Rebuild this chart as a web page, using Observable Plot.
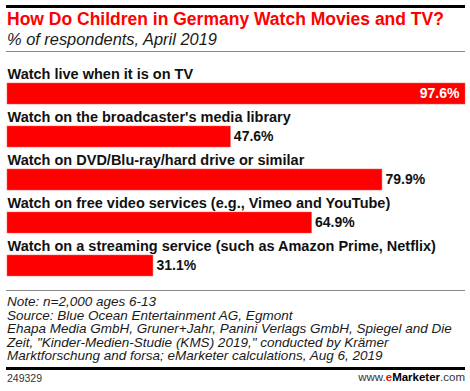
<!DOCTYPE html>
<html>
<head>
<meta charset="utf-8">
<script src="https://cdn.jsdelivr.net/npm/d3@7"></script>
<script src="https://cdn.jsdelivr.net/npm/@observablehq/plot@0.6"></script>
<style>
  html, body { margin: 0; padding: 0; background: #fff; }
  body { width: 470px; height: 391px; position: relative; overflow: hidden; font-family: "Liberation Sans", Arial, sans-serif; color: #000; }
  .abs { position: absolute; white-space: nowrap; }
  .rule { position: absolute; left: 6px; width: 459px; }
  #title { left: 7px; top: 11px; font-size: 17.5px; line-height: 17.5px; font-weight: bold; color: #ff0000; }
  #subtitle { left: 7px; top: 31px; font-size: 16.4px; line-height: 16.4px; font-style: italic; color: #1a1a1a; }
  #note { left: 7px; top: 295px; font-size: 13.5px; line-height: 13.6px; font-style: italic; color: #1a1a1a; }
  #id { left: 7px; top: 373px; font-size: 10.5px; line-height: 10.5px; color: #333; }
  #brand { right: 5px; top: 372px; font-size: 11.5px; line-height: 11.5px; color: #333; }
  #brand b.e { color: #ff0000; }
  #brand b { color: #000; }
  #chart { position: absolute; left: 0; top: 53px; }
</style>
</head>
<body>
<div class="rule" style="top:5px;height:3px;background:#000"></div>
<div id="title" class="abs">How Do Children in Germany Watch Movies and TV?</div>
<div id="subtitle" class="abs">% of respondents, April 2019</div>
<div class="rule" style="top:51px;height:1px;background:#888"></div>
<div id="chart"></div>
<div class="rule" style="top:290px;height:1px;background:#888"></div>
<div id="note" class="abs">Note: n=2,000 ages 6-13<br>Source: Blue Ocean Entertainment AG, Egmont<br>Ehapa Media GmbH, Gruner+Jahr, Panini Verlags GmbH, Spiegel and Die<br>Zeit, "Kinder-Medien-Studie (KMS) 2019," conducted by Krämer<br>Marktforschung and forsa; eMarketer calculations, Aug 6, 2019</div>
<div class="rule" style="top:367px;height:3px;background:#000"></div>
<div id="id" class="abs">249329</div>
<div id="brand" class="abs">www.<b class="e">e</b><b>Marketer</b>.com</div>
<script>
const categories = [
  "Watch live when it is on TV",
  "Watch on the broadcaster's media library",
  "Watch on DVD/Blu-ray/hard drive or similar",
  "Watch on free video services (e.g., Vimeo and YouTube)",
  "Watch on a streaming service (such as Amazon Prime, Netflix)"
];
const values = [97.6, 47.6, 79.9, 64.9, 31.1];
const valueLabels = ["97.6%", "47.6%", "79.9%", "64.9%", "31.1%"];

const data = categories.map((c, i) => ({category: c, value: values[i], label: valueLabels[i], inside: i === 0}));

const chart = Plot.plot({
  width: 470,
  height: 237,
  marginLeft: 7,
  marginRight: 5,
  marginTop: 28,
  marginBottom: 12,
  style: {fontFamily: "'Liberation Sans', Arial, sans-serif", background: "transparent", overflow: "visible"},
  x: {domain: [0, 97.6], axis: null},
  y: {domain: categories, axis: null, paddingInner: 0.52, paddingOuter: 0},
  marks: [
    Plot.barX(data, {x: "value", y: "category", fill: "#ff0000", stroke: "#ff5555", strokeWidth: 0.5}),
    Plot.text(data, {x: 0, y: "category", text: "category", textAnchor: "start", lineAnchor: "bottom", dy: -15.5, fontSize: 14.5, fontWeight: "bold", fill: "#111"}),
    Plot.text(data.filter(d => d.inside), {x: "value", y: "category", text: "label", textAnchor: "end", dx: -6, fontSize: 14, fontWeight: "bold", fill: "#fff"}),
    Plot.text(data.filter(d => !d.inside), {x: "value", y: "category", text: "label", textAnchor: "start", dx: 3, fontSize: 14, fontWeight: "bold", fill: "#111"})
  ]
});
document.getElementById("chart").appendChild(chart);
</script>
</body>
</html>
